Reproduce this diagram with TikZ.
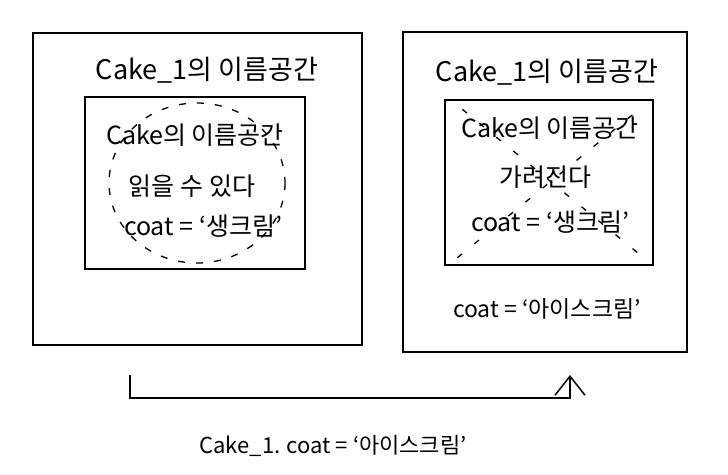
\documentclass[tikz,border=0pt]{standalone}
\usepackage{fontspec}
\newfontfamily\kr{Noto Sans CJK KR}
\usetikzlibrary{arrows.meta, positioning}
\tikzset{
  frame/.style={draw, line width=1.5pt, inner sep=0pt},
  lab/.style={font=\kr\fontsize{27pt}{30pt}\selectfont, inner sep=1pt},
  small/.style={lab, font=\kr\fontsize{25pt}{28pt}\selectfont},
  sparse/.style={line width=1.3pt, dash pattern=on 6pt off 16pt},
}
\begin{document}
\begin{tikzpicture}[x=1pt, y=-1pt]
\useasboundingbox (0,0) rectangle (728,474);
% left: inner namespace readable
\node[frame, minimum width=329pt, minimum height=312pt] (outerL) at (197.5,189) {};
\node[frame, minimum width=220pt, minimum height=172pt] (innerL) at (195,183) {};
\node[lab] (titleL) at (207,70) {Cake\_1의 이름공간};
\node[small] (nsL) at (195,135) {Cake의 이름공간};
\node[small] (readL) at (192,186) {읽을 수 있다};
\node[small] (coatL) at (203,226) {coat = ‘생크림’};
\draw[line width=1.3pt, dash pattern=on 7pt off 11pt] (197,183) ellipse (88 and 80);
% right: inner namespace hidden
\node[frame, minimum width=284pt, minimum height=320pt] (outerR) at (545,192) {};
\node[frame, minimum width=208pt, minimum height=165pt] (innerR) at (549,182.5) {};
\node[lab] (titleR) at (547,72) {Cake\_1의 이름공간};
\node[small] (nsR) at (550,128) {Cake의 이름공간};
\node[small] (hideR) at (545,177) {가려진다};
\node[small] (coatR) at (550,222) {coat = ‘생크림’};
\node[lab, font=\kr\fontsize{23pt}{26pt}\selectfont] (iceR) at (547,309) {coat = ‘아이스크림’};
\draw[sparse] ([shift={(13,-8)}]innerR.south west) -- ([shift={(-12,8)}]innerR.north east);
\draw[sparse] ([shift={(18,10)}]innerR.north west) -- ([shift={(-10,-8)}]innerR.south east);
% assignment
\coordinate (from) at (130,375);
\coordinate (tip) at (570,375);
\draw[line width=1.5pt, -{Straight Barb[length=19pt, width=30pt, line width=1.5pt]}]
  (from) -- ++(0,23) -| (tip);
\node[lab, font=\kr\fontsize{22pt}{26pt}\selectfont] (assign) at (333,446) {Cake\_1. coat = ‘아이스크림’};
\end{tikzpicture}
\end{document}
